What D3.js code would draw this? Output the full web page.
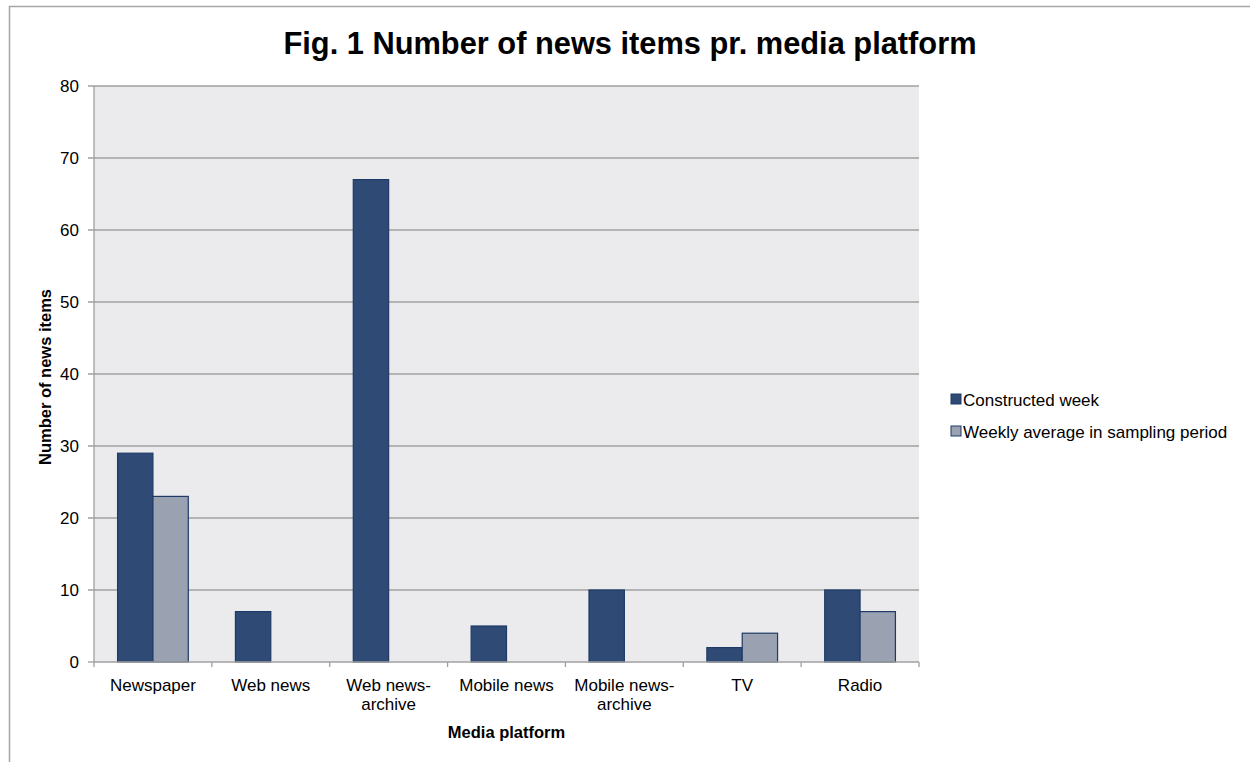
<!DOCTYPE html>
<html><head><meta charset="utf-8">
<script src="https://cdn.jsdelivr.net/npm/d3@7"></script>
<style>body{margin:0;background:#fff;}svg{display:block;font-family:"Liberation Sans",Arial,sans-serif;}</style>
</head><body>
<svg id="c" width="1250" height="762"></svg>
<script>
const categories = ["Newspaper", "Web news", "Web news-archive", "Mobile news", "Mobile news-archive", "TV", "Radio"];
const categoryLines = [["Newspaper"], ["Web news"], ["Web news-", "archive"], ["Mobile news"], ["Mobile news-", "archive"], ["TV"], ["Radio"]];
const seriesNames = ["Constructed week", "Weekly average in sampling period"];
const constructedWeek = [29, 7, 67, 5, 10, 2, 10];
const weeklyAverage = [23, null, null, null, null, 4, 7];
const yTicks = [0, 10, 20, 30, 40, 50, 60, 70, 80];
const colors = ["#2e4a75", "#9aa1b1"];

const svg = d3.select("#c");
const m = {l: 94, r: 919, t: 86, b: 662};
const fs = 17;
const fsb = 16.5;

svg.append("rect").attr("x", 9.5).attr("y", 6.5).attr("width", 1260).attr("height", 780)
  .attr("fill", "#fff").attr("stroke", "#a6a6a6").attr("stroke-width", 1.5);

const x = d3.scaleBand().domain(categories).range([m.l, m.r]).paddingInner(0).paddingOuter(0);
const bw = x.bandwidth();
const x1 = d3.scaleBand().domain([0, 1]).range([bw * 0.2, bw * 0.8]).paddingInner(0).paddingOuter(0);
const y = d3.scaleLinear().domain([0, 80]).range([m.b, m.t]);

svg.append("rect").attr("x", m.l).attr("y", m.t).attr("width", m.r - m.l).attr("height", m.b - m.t).attr("fill", "#ebebee");

svg.append("g").selectAll("line").data(yTicks.filter(d => d > 0)).join("line")
  .attr("x1", m.l - 6).attr("x2", m.r).attr("y1", d => y(d)).attr("y2", d => y(d))
  .attr("stroke", "#a0a0a0").attr("stroke-width", 1.3);

// y axis
svg.append("line").attr("x1", m.l).attr("x2", m.l).attr("y1", m.t).attr("y2", m.b).attr("stroke", "#a0a0a0").attr("stroke-width", 1.3);
svg.append("line").attr("x1", m.l - 6).attr("x2", m.l).attr("y1", m.b).attr("y2", m.b).attr("stroke", "#a0a0a0").attr("stroke-width", 1.3);
svg.append("g").selectAll("text").data(yTicks).join("text")
  .attr("x", m.l - 15).attr("y", d => y(d)).attr("dy", "0.35em").attr("text-anchor", "end")
  .attr("font-size", fs).attr("fill", "#000").text(d => d);

// bars
const series = [constructedWeek, weeklyAverage];
series.forEach((vals, si) => {
  svg.append("g").selectAll("rect").data(categories.map((c, i) => ({c, v: vals[i]})).filter(d => d.v != null)).join("rect")
    .attr("x", d => x(d.c) + x1(si)).attr("width", x1.bandwidth())
    .attr("y", d => y(d.v)).attr("height", d => y(0) - y(d.v))
    .attr("fill", colors[si]).attr("stroke", "#1f3a66").attr("stroke-width", 1.2);
});

// x axis
svg.append("line").attr("x1", m.l).attr("x2", m.r).attr("y1", m.b).attr("y2", m.b).attr("stroke", "#a0a0a0").attr("stroke-width", 1.5);
const bounds = categories.map(c => x(c)).concat([m.r]);
svg.append("g").selectAll("line").data(bounds).join("line")
  .attr("x1", d => d).attr("x2", d => d).attr("y1", m.b).attr("y2", m.b + 5)
  .attr("stroke", "#a0a0a0").attr("stroke-width", 1.3);
const cl = svg.append("g").selectAll("text").data(categories).join("text")
  .attr("text-anchor", "middle").attr("font-size", fs).attr("fill", "#000");
cl.each(function(c, i) {
  const t = d3.select(this);
  categoryLines[i].forEach((ln, j) => {
    t.append("tspan").attr("x", x(c) + bw / 2).attr("y", 691 + j * 19).text(ln);
  });
});

// titles
svg.append("text").attr("x", 630).attr("y", 54).attr("text-anchor", "middle")
  .attr("font-size", 30.8).attr("font-weight", "bold").text("Fig. 1 Number of news items pr. media platform");
svg.append("text").attr("x", (m.l + m.r) / 2).attr("y", 738).attr("text-anchor", "middle")
  .attr("font-size", fsb).attr("font-weight", "bold").text("Media platform");
svg.append("text").attr("transform", `translate(51,${(m.t + m.b) / 2 + 3}) rotate(-90)`).attr("text-anchor", "middle")
  .attr("font-size", fsb).attr("font-weight", "bold").text("Number of news items");

// legend
const lg = svg.append("g").selectAll("g").data(seriesNames).join("g")
  .attr("transform", (d, i) => `translate(951,${400 + i * 32})`);
lg.append("rect").attr("x", 0).attr("y", -6).attr("width", 10).attr("height", 10)
  .attr("fill", (d, i) => colors[i]).attr("stroke", "#1f3a66").attr("stroke-width", 1);
lg.append("text").attr("x", 12).attr("y", 0).attr("dy", "0.35em").attr("font-size", fs).text(d => d);
</script>
</body></html>
